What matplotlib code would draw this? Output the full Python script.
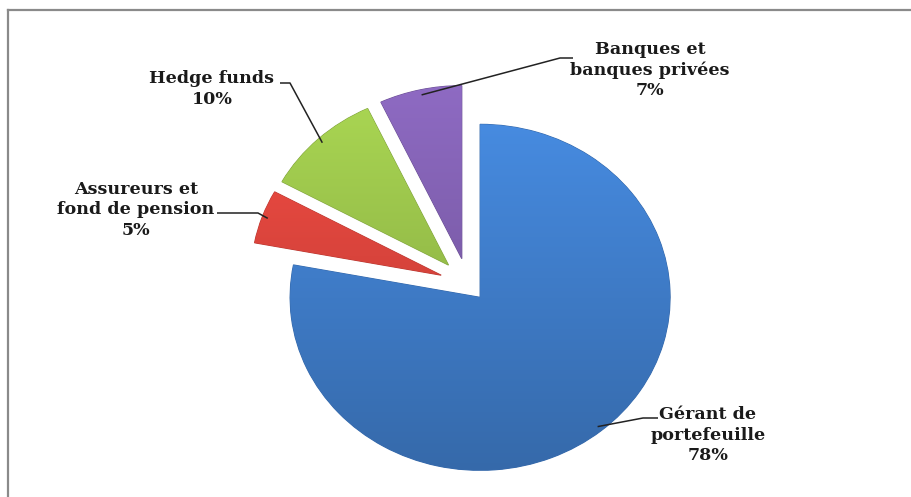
import matplotlib
matplotlib.use("Agg")
import matplotlib.pyplot as plt
import numpy as np
from matplotlib.lines import Line2D

labels = ['Gérant de\nportefeuille', 'Assureurs et\nfond de pension', 'Hedge funds', 'Banques et\nbanques privées']
shares = [78, 5, 10, 7]
explode = [0.1, 0.15, 0.15, 0.15]
colors = ['#3f7cc8', '#d9443c', '#98c04a', '#7f5fae']

W, H = 912, 497
# pie centre and radii in pixels (slightly flattened like the 3D original)
cx, cy = 468, 284
rx, ry = 190, 173


def px(x, y):
    # pixel position -> data units of the pie
    return (x - cx) / rx, (cy - y) / ry


fig = plt.figure(figsize=(W / 100, H / 100), dpi=100)
ax = fig.add_axes([0, 0, 1, 1])

wedges, _ = ax.pie(shares, explode=explode, colors=colors, startangle=90,
                   counterclock=False, radius=1,
                   wedgeprops=dict(linewidth=0))
ax.set_aspect('auto')
ax.axis('off')

# soft vertical shading inside each wedge
grad = np.linspace(1.12, 0.85, 256).reshape(-1, 1)
for w, c in zip(wedges, colors):
    base = np.array(matplotlib.colors.to_rgb(c))
    img = np.clip(grad[:, :, None] * base[None, None, :], 0, 1)
    x0, y0 = w.center
    im = ax.imshow(img, extent=[x0 - 1, x0 + 1, y0 - 1, y0 + 1], aspect='auto',
                   zorder=w.get_zorder(), interpolation='bilinear')
    im.set_clip_path(w)
    w.set_edgecolor(tuple(base * 0.85))
    w.set_linewidth(0.8)

ax.set_xlim(-cx / rx, (W - cx) / rx)
ax.set_ylim(-(H - cy) / ry, cy / ry)

# label text position (pixels) and leader elbows (pixels)
text_pos = [(708, 435), (136, 210), (212, 89), (650, 70)]
elbows = [[(643, 418), (658, 418)],
          [(258, 213), (217, 213)],
          [(290, 83), (280, 83)],
          [(560, 58), (573, 58)]]

font = dict(family='DejaVu Serif', weight='bold', size=12.6, color='#1a1a1a')
for w, lab, val, tp, el in zip(wedges, labels, shares, text_pos, elbows):
    mid = np.deg2rad((w.theta1 + w.theta2) / 2)
    x0, y0 = w.center
    ax_pt = (x0 + 0.97 * np.cos(mid), y0 + 0.97 * np.sin(mid))
    pts = [ax_pt] + [px(*p) for p in el]
    ax.plot([p[0] for p in pts], [p[1] for p in pts], color='#222222', lw=1.1,
            zorder=5, solid_capstyle='butt')
    tx, ty = px(*tp)
    ax.text(tx, ty, f'{lab}\n{val}%', ha='center', va='center',
            linespacing=1.25, zorder=6, **font)

# chart frame (only top and left edges are inside the crop)
fig.add_artist(Line2D([8 / W, 8 / W], [0, 1 - 10 / H], color='#8a8a8a', lw=1.6))
fig.add_artist(Line2D([8 / W, 1], [1 - 10 / H, 1 - 10 / H], color='#8a8a8a', lw=1.6))

fig.savefig('out.png', dpi=100)
